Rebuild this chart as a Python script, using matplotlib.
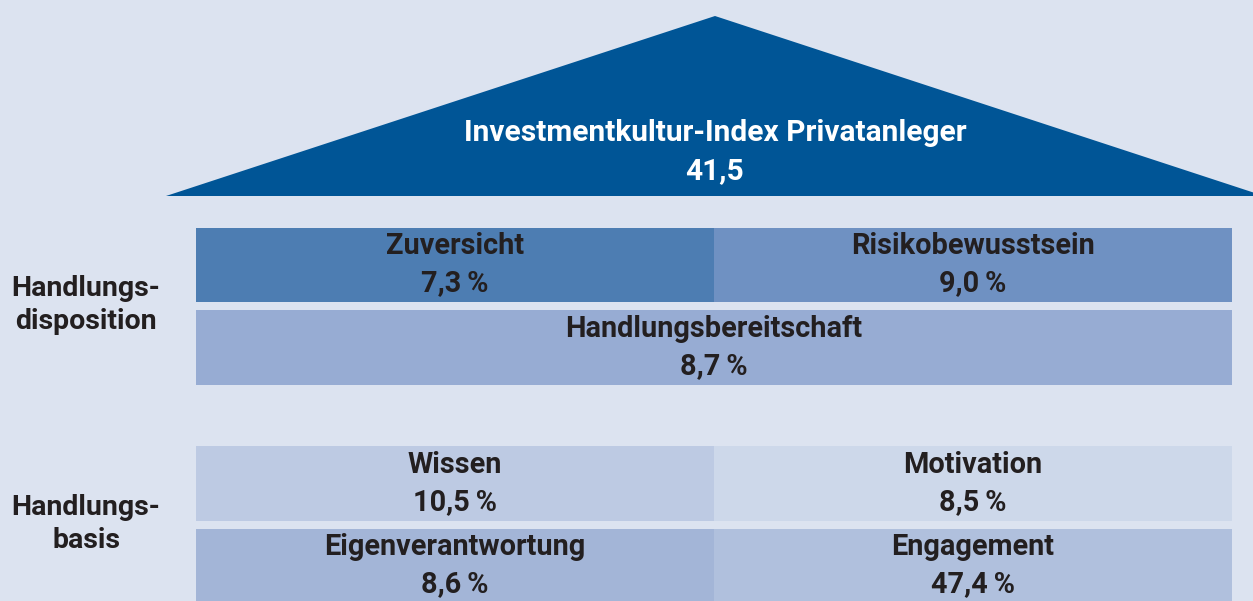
import matplotlib
matplotlib.use("Agg")
import matplotlib.pyplot as plt
from matplotlib.patches import Polygon, Rectangle

# data
index_title = "Investmentkultur-Index Privatanleger"
index_value = "41,5"

group_labels = ["Handlungs-\ndisposition", "Handlungs-\nbasis"]

disp_top_labels = ["Zuversicht", "Risikobewusstsein"]
disp_top_values = [7.3, 9.0]
disp_full_label = "Handlungsbereitschaft"
disp_full_value = 8.7

basis_top_labels = ["Wissen", "Motivation"]
basis_top_values = [10.5, 8.5]
basis_bottom_labels = ["Eigenverantwortung", "Engagement"]
basis_bottom_values = [8.6, 47.4]

BG = "#dce3f0"
ROOF = "#005596"
TEXT = "#231f20"
FONT = ["Roboto", "DejaVu Sans"]


def pct(v):
    return f"{v:.1f}".replace(".", ",") + "\u2009%"


fig = plt.figure(figsize=(12.53, 6.01), dpi=100, facecolor=BG)
ax = fig.add_axes([0, 0, 1, 1])
ax.set_xlim(0, 1253)
ax.set_ylim(601, 0)
ax.axis("off")

# roof
ax.add_patch(Polygon([(166, 196), (715, 16), (1264, 196)], closed=True,
                     facecolor=ROOF, edgecolor="none"))
ax.text(715, 133, index_title, color="white", fontsize=21.5, fontweight="bold",
        family=FONT, ha="center", va="center")
ax.text(715, 171, index_value, color="white", fontsize=21.5, fontweight="bold",
        family=FONT, ha="center", va="center")

x0, xm, x1 = 196, 714, 1232


def cell(xa, xb, ya, yb, color, label, value):
    ax.add_patch(Rectangle((xa, ya), xb - xa, yb - ya, facecolor=color, edgecolor="none"))
    cy = (ya + yb) / 2
    ax.text((xa + xb) / 2, cy - 18.5, label, color=TEXT, fontsize=20.8,
            fontweight="bold", family=FONT, ha="center", va="center")
    ax.text((xa + xb) / 2, cy + 18.5, pct(value), color=TEXT, fontsize=20.8,
            fontweight="bold", family=FONT, ha="center", va="center")


cell(x0, xm, 228, 302, "#4d7db2", disp_top_labels[0], disp_top_values[0])
cell(xm, x1, 228, 302, "#6f91c2", disp_top_labels[1], disp_top_values[1])
cell(x0, x1, 310, 385, "#97acd3", disp_full_label, disp_full_value)

cell(x0, xm, 446, 521, "#bdcae3", basis_top_labels[0], basis_top_values[0])
cell(xm, x1, 446, 521, "#cdd8ea", basis_top_labels[1], basis_top_values[1])
cell(x0, xm, 529, 602, "#a3b5d7", basis_bottom_labels[0], basis_bottom_values[0])
cell(xm, x1, 529, 602, "#b0c0dd", basis_bottom_labels[1], basis_bottom_values[1])

for label, cy in zip(group_labels, [305, 524]):
    ax.text(86, cy, label, color=TEXT, fontsize=20.5, fontweight="bold", family=FONT,
            ha="center", va="center", linespacing=1.25)

fig.savefig("out.png", dpi=100, facecolor=BG)
